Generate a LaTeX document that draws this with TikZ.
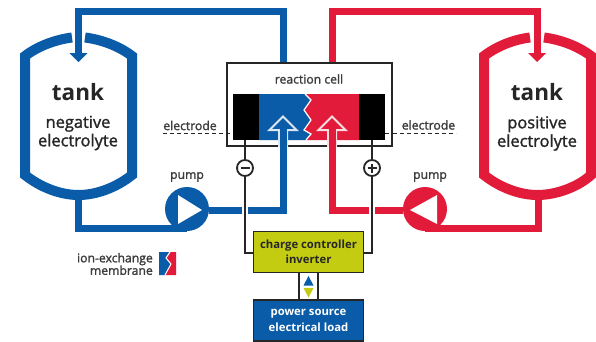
\documentclass[tikz,border=0pt]{standalone}
\usepackage{fontspec}
\setmainfont{Open Sans}
\newfontfamily\medfont[FakeBold=1.5]{Open Sans}
\definecolor{fbblue}{HTML}{0B5CA8}
\definecolor{fbred}{HTML}{E31B3A}
\definecolor{fbyellow}{HTML}{C4CC12}
\definecolor{fbtext}{HTML}{262626}
\tikzset{
  tankwall/.style={line width=10pt,miter limit=10},
  pipe/.style={line width=7pt,line join=miter},
  wire/.style={line width=1.6pt,draw=fbtext},
  outlinehead/.style={fill=#1,draw=white!85!#1,line width=2pt,miter limit=10},
  lbl/.style={font=\fontsize{12.2}{12.5}\selectfont\medfont,text=fbtext!90,inner sep=0pt},
  tanktitle/.style={font=\fontsize{22.5}{26}\selectfont\bfseries,text=fbtext,inner sep=0pt},
  tanktext/.style={font=\fontsize{16.4}{18.5}\selectfont\medfont,text=fbtext,inner sep=0pt,align=center},
  ctrl/.style={draw=fbtext,line width=1.8pt,minimum width=110pt,minimum height=41pt,inner sep=0pt,align=center,
     font=\fontsize{11.3}{15.5}\selectfont\bfseries},
  sign/.style={circle,draw=fbtext,line width=1.8pt,fill=white,minimum size=16pt,inner sep=0pt},
  dashline/.style={line width=1pt,fbtext,dash pattern=on 4pt off 3pt},
}
\begin{document}
\begin{tikzpicture}[x=1pt,y=-1pt]
\useasboundingbox (0,0) rectangle (596,341);
\fill[white] (0,0) rectangle (596,341);

% coordinates
\coordinate (bl1) at (78.5,11.5);
\coordinate (bl2) at (283,11.5);
\coordinate (bl3) at (283,63);
\coordinate (ltip) at (78.5,53);
\coordinate (lout) at (78,195);
\coordinate (lcor) at (78,228.5);
\coordinate (lpin) at (187,228.5);
\coordinate (bret) at (283,210.5);
\coordinate (barr) at (283,130);
\coordinate (rd1) at (537,11.5);
\coordinate (rd2) at (332,11.5);
\coordinate (rd3) at (332,63);
\coordinate (rtip) at (537,53);
\coordinate (rout) at (538,195);
\coordinate (rcor) at (538,228.5);
\coordinate (rpin) at (425,228.5);
\coordinate (rret) at (332,210.5);
\coordinate (rarr) at (332,130);

% tanks
\draw[tankwall,fbblue] (72,37.5) .. controls (56,39.5) and (38,46) .. (25,56) -- (25,175)
  .. controls (40,187) and (60,195) .. (78.5,195) .. controls (97,195) and (117,187) .. (132,175)
  -- (132,56) .. controls (119,46) and (101,39.5) .. (85,37.5);
\draw[tankwall,fbred] (530,37.5) .. controls (514,39.5) and (497,46) .. (484,56) -- (484,175)
  .. controls (499,187) and (519,195) .. (537.5,195) .. controls (556,195) and (578,187) .. (591,175)
  -- (591,56) .. controls (578,46) and (560,39.5) .. (544,37.5);

% top pipes
\draw[pipe,fbblue] (ltip) -- (bl1) -- (bl2) -- (bl3);
\draw[pipe,fbred] (rtip) -- (rd1) -- (rd2) -- (rd3);
\fill[fbblue] (69.5,53) -- (87.5,53) -- (78.5,62) -- cycle;
\fill[fbred] (528,53) -- (546,53) -- (537,62) -- cycle;

% reaction cell
\node[draw=fbtext,line width=2pt,fill=white,minimum width=165pt,minimum height=83pt,inner sep=0pt] (cell) at (309.5,104.5) {};
\node[lbl] (celltitle) at (309,79) {reaction cell};

% dashed electrode lines
\coordinate (dl) at (163,133);
\coordinate (dr) at (456,133);
\draw[dashline] (dl) -- (cell.west |- dl);
\draw[dashline] (cell.east |- dr) -- (dr);

% electrolyte + electrodes
\fill[fbblue] (259,94) -- (306,94) -- (311,100) -- (304,110) -- (311,120) -- (304,130) -- (311,134) -- (306,140) -- (259,140) -- cycle;
\fill[fbred] (359,94) -- (306,94) -- (311,100) -- (304,110) -- (311,120) -- (304,130) -- (311,134) -- (306,140) -- (359,140) -- cycle;
\draw[white,line width=1.2pt] (305,94) -- (311,100) -- (304,110) -- (311,120) -- (304,130) -- (311,134) -- (306,140);
\node[fill=black,minimum width=26pt,minimum height=46pt,inner sep=0pt] (eleft) at (246,117) {};
\node[fill=black,minimum width=26pt,minimum height=46pt,inner sep=0pt] (eright) at (372,117) {};
\draw[dashline] (cell.west |- dl) -- (eleft.west |- dl);
\draw[dashline] (eright.east |- dr) -- (cell.east |- dr);

% return pipes and pumps
\draw[pipe,fbblue] (lout) -- (lcor) -- (lpin);
\draw[pipe,fbred] (rout) -- (rcor) -- (rpin);
\node[circle,fill=fbblue,minimum size=44pt,inner sep=0pt] (pumpl) at (187,209) {};
\node[circle,fill=fbred,minimum size=44pt,inner sep=0pt] (pumpr) at (425,209) {};
\fill[white] (178,195) -- (202,210) -- (178,224) -- cycle;
\fill[white] (437,195) -- (410,210) -- (437,224) -- cycle;
\draw[pipe,fbblue] (pumpl.east |- bret) -- (bret) -- (barr);
\draw[pipe,fbred] (pumpr.west |- rret) -- (rret) -- (rarr);
\fill[outlinehead=fbblue] (269.5,130) -- (283,116.5) -- (296.5,130) -- (287,130) -- (287,146) -- (279,146) -- (279,130) -- cycle;
\fill[outlinehead=fbred] (318.5,130) -- (332,116.5) -- (345.5,130) -- (336,130) -- (336,146) -- (328,146) -- (328,130) -- cycle;
\draw[fbblue,line width=7pt] (283,128) -- (283,150);
\draw[fbred,line width=7pt] (332,128) -- (332,150);

% control boxes
\node[ctrl,fill=fbyellow,text=fbtext] (charge) at (308.5,252) {charge controller\\inverter};
\node[ctrl,fill=fbblue,text=white] (power) at (308.5,320.5) {power source\\electrical load};

% wires (white halo breaks the horizontal pipes)
\node[sign] (minus) at (245,168) {};
\node[sign] (plus) at (372,168) {};
\draw[white,line width=6pt] (245,200) -- (245,220);
\draw[white,line width=6pt] (372,200) -- (372,220);
\draw[wire] (eleft.south -| minus) -- (minus);
\draw[wire] (eright.south -| plus) -- (plus);
\draw[wire] (minus) |- (charge.west |- 0,253);
\draw[wire] (plus) |- (charge.east |- 0,253);
\draw[fbtext,line width=1.8pt] (240.5,168) -- (249.5,168);
\draw[fbtext,line width=1.8pt] (367.5,168) -- (376.5,168) (372,163.5) -- (372,172.5);
\coordinate (w1) at (299,0); \coordinate (w2) at (318,0);
\draw[wire] (charge.south -| w1) -- (power.north -| w1);
\draw[wire] (charge.south -| w2) -- (power.north -| w2);
\fill[fbblue] (303.5,285.5) -- (308.5,276) -- (313.5,285.5) -- cycle;
\fill[fbyellow] (303.5,288) -- (308.5,297.5) -- (313.5,288) -- cycle;

% text
\node[tanktitle] (t1) at (78,92) {tank};
\node[tanktitle] (t2) at (537,92) {tank};
\node[tanktext] (n1) at (78,133) {negative\\electrolyte};
\node[tanktext] (n2) at (537,133.5) {positive\\electrolyte};
\node[lbl] (el1) at (190,125.5) {electrode};
\node[lbl] (el2) at (428.5,125) {electrode};
\node[lbl] (p1) at (187,177) {pump};
\node[lbl] (p2) at (430,177) {pump};
\node[lbl,align=right,anchor=east] (ion) at (153,264) {ion-exchange\\membrane};

% membrane icon
\fill[fbblue] (159,252) -- (170,252) -- (166,258) -- (171,264) -- (165,275) -- (159,275) -- cycle;
\fill[fbred] (176,252) -- (170,252) -- (166,258) -- (171,264) -- (165,275) -- (176,275) -- cycle;
\draw[white,line width=1pt] (170,252) -- (166,258) -- (171,264) -- (165,275);
\end{tikzpicture}
\end{document}
